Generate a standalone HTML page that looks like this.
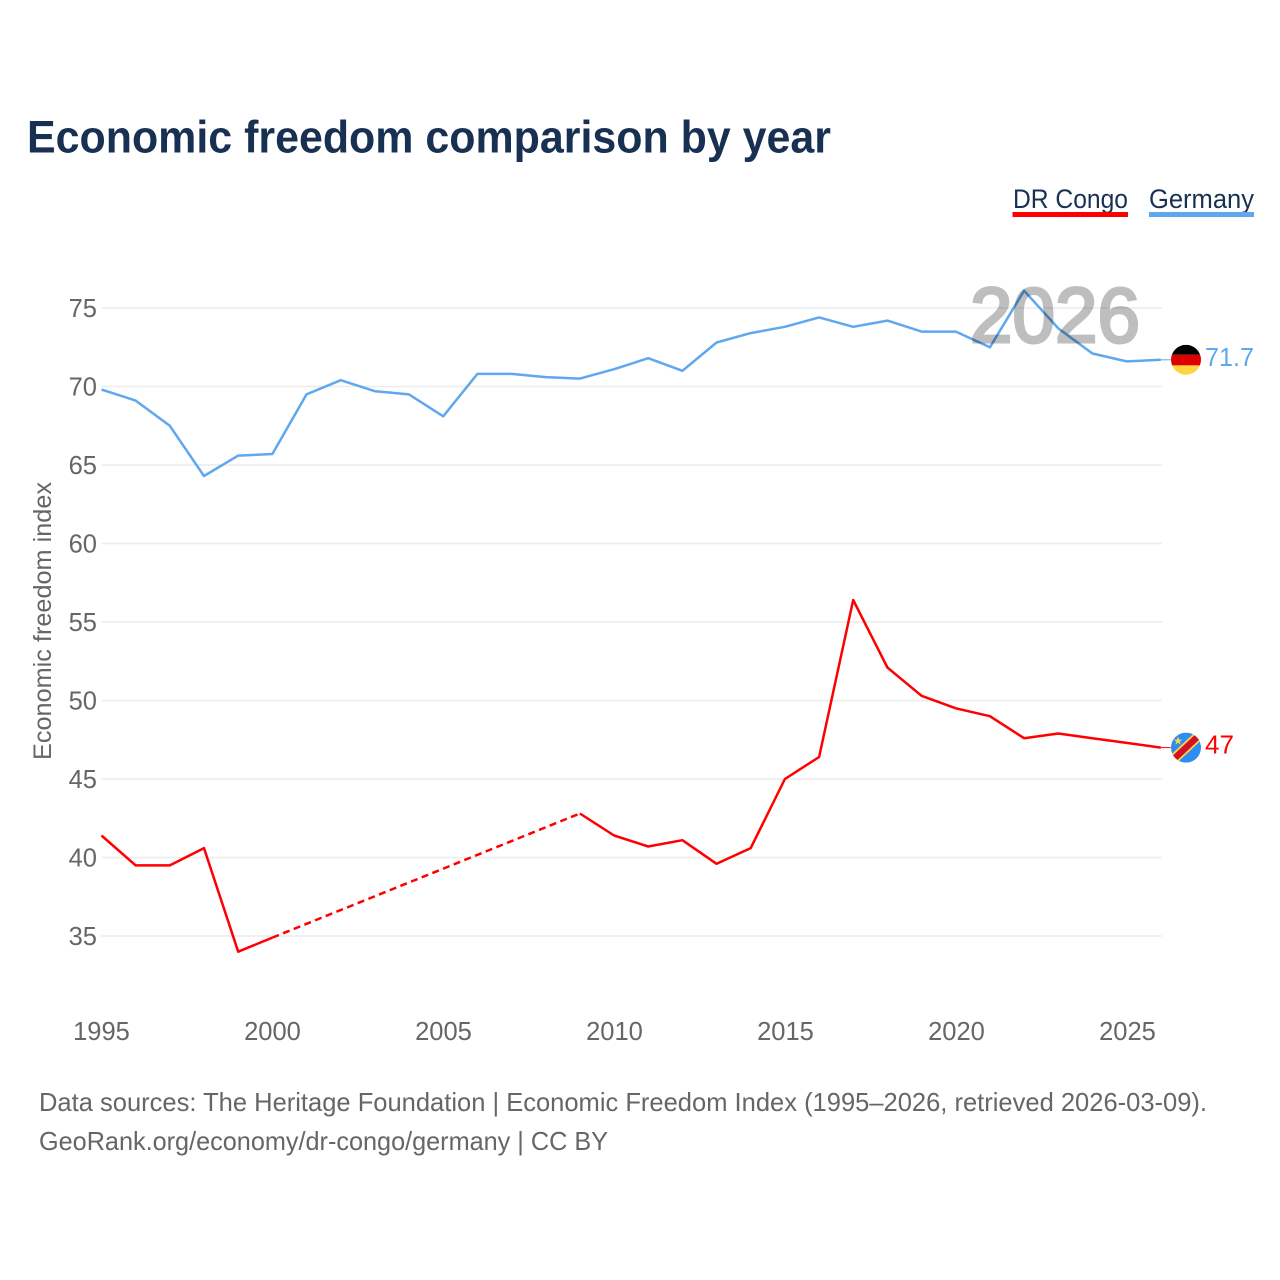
<!DOCTYPE html>
<html lang="en">
<head>
<meta charset="utf-8">
<title>Economic freedom comparison by year</title>
<style>
html,body{margin:0;padding:0;background:#fff;width:1280px;height:1280px;overflow:hidden}
svg{display:block}
text{font-family:"Liberation Sans",sans-serif}
</style>
</head>
<body>
<svg id="chart" width="1280" height="1280" viewBox="0 0 1280 1280" xmlns="http://www.w3.org/2000/svg">
  <defs>
    <clipPath id="flag-de-clip"><circle cx="0" cy="0" r="15"/></clipPath>
    <clipPath id="flag-cd-clip"><circle cx="0" cy="0" r="15"/></clipPath>
  </defs>
  <rect width="1280" height="1280" fill="#fff"/>
  <text x="27" y="152.500" font-size="45" font-weight="700" fill="#183153" textLength="804" lengthAdjust="spacingAndGlyphs">Economic freedom comparison by year</text>

  <g>
    <g>
      <text x="1013" y="208" font-size="27" fill="#183153" textLength="115" lengthAdjust="spacingAndGlyphs">DR Congo</text>
      <rect x="1012.500" y="212" width="115.500" height="5" fill="#ff0000"/>
    </g>
    <g>
      <text x="1149" y="208" font-size="27" fill="#183153" textLength="105" lengthAdjust="spacingAndGlyphs">Germany</text>
      <rect x="1149" y="212" width="105" height="5" fill="#5fa8ee"/>
    </g>
  </g>

  <g id="grid"></g>
  <g id="y-axis"></g>
  <g id="x-axis"></g>
  <text transform="translate(51,621) rotate(-90)" text-anchor="middle" font-size="25" fill="#666" textLength="278" lengthAdjust="spacingAndGlyphs">Economic freedom index</text>

  <g id="series"></g>

  <text x="970" y="342" font-size="78" font-weight="400" fill="#000" stroke="#000" stroke-width="3" opacity="0.25" textLength="170" lengthAdjust="spacingAndGlyphs">2026</text>

  <g id="flag-germany" clip-path="url(#flag-de-clip)">
    <rect x="-15" y="-15" width="30" height="10" fill="#000"/>
    <rect x="-15" y="-5" width="30" height="11" fill="#dd0000"/>
    <rect x="-15" y="5.500" width="30" height="10" fill="#ffd53d"/>
  </g>
  <g id="flag-congo" clip-path="url(#flag-cd-clip)">
    <rect x="-15" y="-15" width="30" height="30" fill="#2f8cf0"/>
    <line x1="-16" y1="15" x2="16" y2="-15" stroke="#ffd53d" stroke-width="10"/>
    <line x1="-16" y1="15" x2="16" y2="-15" stroke="#d3102a" stroke-width="6.500"/>
    <polygon points="-8,-11 -6.800,-8 -3.800,-8 -6.200,-6 -5.300,-3 -8,-4.800 -10.700,-3 -9.800,-6 -12.200,-8 -9.200,-8" fill="#ffd53d"/>
  </g>
  <text id="label-germany" x="1205" font-size="25.500" fill="#5fa8ee" textLength="49" lengthAdjust="spacingAndGlyphs"></text>
  <text id="label-congo" x="1205" font-size="25.500" fill="#ff0000" textLength="29" lengthAdjust="spacingAndGlyphs"></text>

  <text x="39" y="1111" font-size="26" fill="#666" textLength="1168" lengthAdjust="spacingAndGlyphs">Data sources: The Heritage Foundation | Economic Freedom Index (1995–2026, retrieved 2026-03-09).</text>
  <text x="39" y="1150" font-size="26" fill="#666" textLength="569" lengthAdjust="spacingAndGlyphs">GeoRank.org/economy/dr-congo/germany | CC BY</text>
</svg>
<script>
const years = [1995,1996,1997,1998,1999,2000,2001,2002,2003,2004,2005,2006,2007,2008,2009,2010,2011,2012,2013,2014,2015,2016,2017,2018,2019,2020,2021,2022,2023,2024,2025,2026];
const germanyValues = [69.8,69.1,67.5,64.3,65.6,65.7,69.5,70.4,69.7,69.5,68.1,70.8,70.8,70.6,70.5,71.1,71.8,71.0,72.8,73.4,73.8,74.4,73.8,74.2,73.5,73.5,72.5,76.1,73.7,72.1,71.6,71.7];
const congoValues = [41.4,39.5,39.5,40.6,34.0,34.9,null,null,null,null,null,null,null,null,42.8,41.4,40.7,41.1,39.6,40.6,45.0,46.4,56.4,52.1,50.3,49.5,49.0,47.6,47.9,47.6,47.3,47.0];
const yTicks = [35,40,45,50,55,60,65,70,75];
const xTicks = [1995,2000,2005,2010,2015,2020,2025];
const germanyEndLabel = '71.7';
const congoEndLabel = '47';

const NS = 'http://www.w3.org/2000/svg';
const xScale = function (year) { return 101.5 + (year - 1995) * 34.17; };
const yScale = function (value) { return 308 + (75 - value) * 15.7; };
const gridG = document.getElementById('grid');
const yAxisG = document.getElementById('y-axis');
const xAxisG = document.getElementById('x-axis');
const seriesG = document.getElementById('series');

yTicks.forEach(function (tick) {
  const line = document.createElementNS(NS, 'line');
  
  
  line.setAttribute('x1', xScale(1995));
  line.setAttribute('x2', xScale(2026) + 1);
  line.setAttribute('y1', yScale(tick));
  line.setAttribute('y2', yScale(tick));
  line.setAttribute('stroke', '#ececec');
  line.setAttribute('stroke-width', '1.500');
  gridG.appendChild(line);
  const label = document.createElementNS(NS, 'text');
  
  
  label.setAttribute('x', 97);
  label.setAttribute('y', yScale(tick) + 9);
  label.setAttribute('text-anchor', 'end');
  label.setAttribute('font-size', '25.500');
  label.setAttribute('fill', '#666');
  label.textContent = tick;
  yAxisG.appendChild(label);
});

xTicks.forEach(function (tick) {
  const label = document.createElementNS(NS, 'text');
  
  
  label.setAttribute('x', xScale(tick) + (tick - 1995) * 0.03);
  label.setAttribute('y', 1040);
  label.setAttribute('text-anchor', 'middle');
  label.setAttribute('font-size', '25.500');
  label.setAttribute('fill', '#666');
  label.textContent = tick;
  xAxisG.appendChild(label);
});

function addPath(points, color, dashed, name) {
  const path = document.createElementNS(NS, 'path');
  
  
  path.setAttribute('d', points.map(function (p, i) {
    return (i ? 'L' : 'M') + xScale(p[0]).toFixed(1) + ' ' + yScale(p[1]).toFixed(1);
  }).join(''));
  path.setAttribute('fill', 'none');
  path.setAttribute('stroke', color);
  path.setAttribute('stroke-width', '2.500');
  path.setAttribute('stroke-linejoin', 'round');
  if (dashed) path.setAttribute('stroke-dasharray', '7 4.500');
  seriesG.appendChild(path);
}

function drawSeries(values, color, name) {
  let run = [];
  let last = null;
  values.forEach(function (v, i) {
    if (v === null) {
      if (run.length) addPath(run, color, false, name + '-line');
      run = [];
      return;
    }
    const pt = [years[i], v];
    if (last && last[0] !== years[i] - 1) addPath([last, pt], color, true, name + '-gap-line');
    run.push(pt);
    last = pt;
  });
  if (run.length) addPath(run, color, false, name + '-line');
}

drawSeries(congoValues, '#ff0000', 'dr-congo');
drawSeries(germanyValues, '#5fa8ee', 'germany');

function placeEnd(values, flagId, labelId, text, color, name) {
  const v = values[values.length - 1];
  const y = yScale(v);
  const x0 = xScale(years[years.length - 1]);
  const connector = document.createElementNS(NS, 'line');
  
  
  connector.setAttribute('x1', x0);
  connector.setAttribute('x2', x0 + 10);
  connector.setAttribute('y1', y);
  connector.setAttribute('y2', y);
  connector.setAttribute('stroke', color);
  connector.setAttribute('stroke-width', '1');
  seriesG.appendChild(connector);
  document.getElementById(flagId).setAttribute('transform', 'translate(1186,' + y.toFixed(1) + ')');
  const label = document.getElementById(labelId);
  label.setAttribute('y', (y + 6).toFixed(1));
  label.textContent = text;
}

placeEnd(germanyValues, 'flag-germany', 'label-germany', germanyEndLabel, '#5fa8ee', 'germany');
placeEnd(congoValues, 'flag-congo', 'label-congo', congoEndLabel, '#ff0000', 'dr-congo');
</script>
</body>
</html>
